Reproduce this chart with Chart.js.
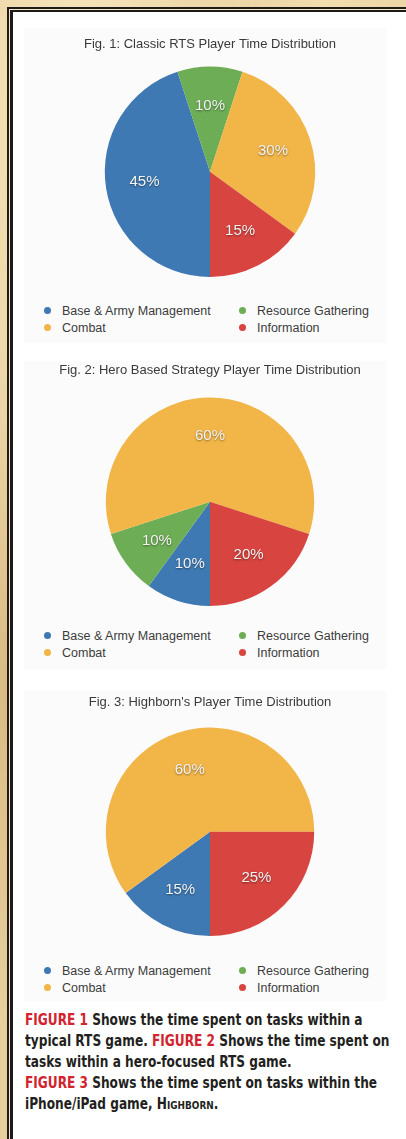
<!DOCTYPE html>
<html>
<head>
<meta charset="utf-8">
<script src="https://cdn.jsdelivr.net/npm/chart.js@4.4.1/dist/chart.umd.min.js"></script>
<style>
    html, body {
        margin: 0;
        padding: 0;
        width: 406px;
        height: 1139px;
        overflow: hidden;
    }
    body {
        position: relative;
        background: #e7cf9e;
        background-image:
            radial-gradient(ellipse at 20% 10%, rgba(255, 240, 205, 0.7), rgba(255, 240, 205, 0) 40%),
            radial-gradient(ellipse at 5% 60%, rgba(200, 160, 100, 0.45), rgba(200, 160, 100, 0) 35%),
            radial-gradient(ellipse at 80% 0%, rgba(245, 225, 180, 0.8), rgba(245, 225, 180, 0) 30%);
        font-family: "Liberation Sans", Arial, sans-serif;
    }
    #frameOuter {
        position: absolute;
        left: 7px;
        top: 7px;
        right: -20px;
        bottom: -20px;
        border-left: 2px solid #1d1b19;
        border-top: 2px solid #1d1b19;
        background: #f4e6c6;
    }
    #frameInner {
        position: absolute;
        left: 1px;
        top: 1px;
        right: 0;
        bottom: 0;
        border-left: 3px solid #1d1b19;
        border-top: 2px solid #1d1b19;
        background: #ffffff;
    }
    .panel {
        position: absolute;
        left: 24px;
        width: 362px;
        background: #fbfbfb;
    }
    .chartBox {
        position: absolute;
        left: 24px;
        width: 372px;
    }
    .legend {
        position: absolute;
        left: 44px;
        width: 345px;
        display: grid;
        grid-template-columns: 195px auto;
        font-size: 12.5px;
        line-height: 16.5px;
        color: #3b3b3b;
        white-space: nowrap;
    }
    .legend .dot {
        display: inline-block;
        width: 7px;
        height: 7px;
        border-radius: 50%;
        margin-right: 11px;
        vertical-align: 1px;
    }
    #caption {
        position: absolute;
        left: 25px;
        top: 1010px;
        font-family: "DejaVu Sans Condensed", "Liberation Sans Narrow", sans-serif;
        font-weight: bold;
        font-size: 15px;
        line-height: 21px;
        color: #231f20;
        white-space: nowrap;
        transform: scaleX(0.9);
        transform-origin: 0 0;
    }
    #caption .fig {
        color: #d2232f;
    }
    #caption .sc {
        font-variant: small-caps;
    }
</style>
</head>
<body>
<div id="frameOuter"><div id="frameInner"></div></div>

<div class="panel" style="top: 28px; height: 315px;"></div>
<div class="panel" style="top: 361px; height: 308px;"></div>
<div class="panel" style="top: 691px; height: 310px;"></div>

<div class="chartBox" style="top: 31px; height: 246px;"><canvas id="fig1"></canvas></div>
<div class="legend" id="legend1" style="top: 303px;"></div>

<div class="chartBox" style="top: 357px; height: 249px;"><canvas id="fig2"></canvas></div>
<div class="legend" id="legend2" style="top: 628px;"></div>

<div class="chartBox" style="top: 689px; height: 247px;"><canvas id="fig3"></canvas></div>
<div class="legend" id="legend3" style="top: 963px;"></div>

<div id="caption">
    <div><span class="fig">FIGURE 1</span> Shows the time spent on tasks within a</div>
    <div>typical RTS game. <span class="fig">FIGURE 2</span> Shows the time spent on</div>
    <div>tasks within a hero-focused RTS game.</div>
    <div><span class="fig">FIGURE 3</span> Shows the time spent on tasks within the</div>
    <div>iPhone/iPad game, <span class="sc">Highborn</span>.</div>
</div>

<script>
// categories, same order in every figure
const taskLabels = ['Base & Army Management', 'Resource Gathering', 'Combat', 'Information'];

// percentage of player time per task
const classicRtsShares = [45, 10, 30, 15];
const heroStrategyShares = [10, 10, 60, 20];
const highbornShares = [15, 0, 60, 25];

const figureTitles = [
    'Fig. 1: Classic RTS Player Time Distribution',
    'Fig. 2: Hero Based Strategy Player Time Distribution',
    "Fig. 3: Highborn's Player Time Distribution"
];

const taskColors = ['#3e79b3', '#6dad55', '#f2b548', '#d8443f'];

// draws "NN%" inside every slice, a bit further out than the arc centre
const sliceLabels = {
    id: 'sliceLabels',
    afterDatasetsDraw(chart) {
        const ctx = chart.ctx;
        const meta = chart.getDatasetMeta(0);
        const values = chart.data.datasets[0].data;
        ctx.save();
        ctx.font = '15px "Liberation Sans", Arial, sans-serif';
        ctx.textAlign = 'center';
        ctx.textBaseline = 'middle';
        meta.data.forEach(function (arc, i) {
            if (!values[i]) return;
            const p = arc.getProps(['x', 'y', 'startAngle', 'endAngle', 'outerRadius'], true);
            const mid = (p.startAngle + p.endAngle) / 2;
            const r = p.outerRadius * 0.63;
            const x = p.x + Math.cos(mid) * r;
            const y = p.y + Math.sin(mid) * r;
            ctx.shadowColor = 'rgba(0, 0, 0, 0.45)';
            ctx.shadowBlur = 2;
            ctx.shadowOffsetY = 1;
            ctx.fillStyle = '#f3f3f3';
            ctx.fillText(values[i] + '%', x, y);
        });
        ctx.restore();
    }
};

function buildLegend(containerId) {
    const box = document.getElementById(containerId);
    taskLabels.forEach(function (label, i) {
        const item = document.createElement('div');
        const dot = document.createElement('span');
        dot.className = 'dot';
        dot.style.background = taskColors[i];
        item.appendChild(dot);
        item.appendChild(document.createTextNode(label));
        box.appendChild(item);
    });
}

function setupPieChart(canvasId, title, shares, titleBottomPad) {
    const ctx = document.getElementById(canvasId).getContext('2d');
    return new Chart(ctx, {
        type: 'pie',
        plugins: [sliceLabels],
        data: {
            labels: taskLabels,
            datasets: [
                {
                    data: shares,
                    backgroundColor: taskColors,
                    borderWidth: 0
                }
            ]
        },
        options: {
            responsive: true,
            maintainAspectRatio: false,
            rotation: 180,
            animation: false,
            plugins: {
                legend: false,
                tooltip: { enabled: false },
                title: {
                    display: true,
                    text: title,
                    color: '#3a3a3a',
                    font: { family: '"Liberation Sans", Arial, sans-serif', size: 13, weight: 'normal' },
                    padding: { top: 6, bottom: titleBottomPad }
                }
            }
        }
    });
}

setupPieChart('fig1', figureTitles[0], classicRtsShares, 14);
setupPieChart('fig2', figureTitles[1], heroStrategyShares, 19);
setupPieChart('fig3', figureTitles[2], highbornShares, 17);

buildLegend('legend1');
buildLegend('legend2');
buildLegend('legend3');
</script>
</body>
</html>
